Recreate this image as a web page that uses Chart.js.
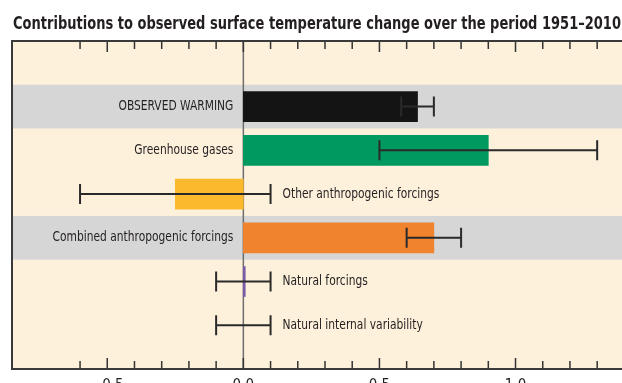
<!DOCTYPE html>
<html><head><meta charset="utf-8">
<script src="https://cdn.jsdelivr.net/npm/chart.js@4/dist/chart.umd.min.js"></script>
<style>
html,body{margin:0;padding:0;background:#fff;overflow:hidden;width:622px;height:383px}
#wrap{position:absolute;left:0;top:0;width:700px;height:383px}
</style>
</head><body><div id="wrap"><canvas id="c" width="700" height="383"></canvas></div>
<script>
const chartTitle = 'Contributions to observed surface temperature change over the period 1951–2010';
const categories = ['OBSERVED WARMING','Greenhouse gases','Other anthropogenic forcings','Combined anthropogenic forcings','Natural forcings','Natural internal variability'];
const bestEstimate = [0.64, 0.90, -0.25, 0.70, 0.007, null];
const lowerBound = [0.58, 0.50, -0.60, 0.60, -0.10, -0.10];
const upperBound = [0.70, 1.30, 0.10, 0.80, 0.10, 0.10];
const highlightedRows = [true, false, false, true, false, false];
const xTickValues = [-0.5, 0, 0.5, 1.0];
const xTickLabels = ['−0.5', '0.0', '0.5', '1.0'];
const barColors = ['#141414', '#00995f', '#fbb92e', '#f0832e', '#7a5aa8', '#000000'];

const FONT = '"Liberation Sans Narrow","DejaVu Sans Condensed","Arial Narrow",sans-serif';
const INK = '#231f20';

function squeezedText(ctx, text, x, y, sx) {
  ctx.save();
  ctx.translate(x, y);
  ctx.scale(sx, 1);
  ctx.fillText(text, 0, 0);
  ctx.restore();
}

const decor = {
  id: 'decor',
  beforeDatasetsDraw(chart) {
    const {ctx, chartArea: a, scales: {x, y}} = chart;
    ctx.save();
    ctx.fillStyle = '#fef1dc';
    ctx.fillRect(a.left, a.top, a.right - a.left, a.bottom - a.top);
    categories.forEach((c, i) => {
      if (!highlightedRows[i]) return;
      const t = y.getPixelForValue(i - 0.5), b = y.getPixelForValue(i + 0.5);
      ctx.fillStyle = '#d6d6d6';
      ctx.fillRect(a.left, Math.min(t, b), a.right - a.left, Math.abs(b - t));
    });
    const x0 = x.getPixelForValue(0);
    ctx.strokeStyle = '#6e6e6e'; ctx.lineWidth = 1.5;
    ctx.beginPath(); ctx.moveTo(x0, a.top); ctx.lineTo(x0, a.bottom); ctx.stroke();
    ctx.restore();
  },
  afterDatasetsDraw(chart) {
    const {ctx, chartArea: a, scales: {x, y}} = chart;
    ctx.save();
    // title
    ctx.font = 'bold 17px ' + FONT; ctx.fillStyle = INK; ctx.textBaseline = 'alphabetic'; ctx.textAlign = 'left';
    const tw = ctx.measureText(chartTitle).width;
    squeezedText(ctx, chartTitle, 13, 29, Math.min(1, 608 / tw));
    // error bars
    ctx.strokeStyle = '#2a2a2a'; ctx.lineWidth = 2;
    categories.forEach((c, i) => {
      const py = y.getPixelForValue(i);
      const l = x.getPixelForValue(lowerBound[i]), r = x.getPixelForValue(upperBound[i]);
      ctx.beginPath();
      ctx.moveTo(l, py); ctx.lineTo(r, py);
      ctx.moveTo(l, py - 10); ctx.lineTo(l, py + 10);
      ctx.moveTo(r, py - 10); ctx.lineTo(r, py + 10);
      ctx.stroke();
    });
    // category labels
    ctx.font = '13.5px ' + FONT; ctx.fillStyle = INK; ctx.textBaseline = 'middle';
    const sx = 0.88;
    const x0 = x.getPixelForValue(0);
    categories.forEach((c, i) => {
      const py = y.getPixelForValue(i);
      const v = bestEstimate[i];
      if (v !== null && v > 0.05) {
        ctx.textAlign = 'right'; squeezedText(ctx, c, x0 - 10, py, sx);
      } else {
        ctx.textAlign = 'left'; squeezedText(ctx, c, x.getPixelForValue(upperBound[i]) + 12, py, sx);
      }
    });
    // inner tick marks
    ctx.strokeStyle = '#333'; ctx.lineWidth = 1.5;
    for (let k = -6; k <= 14; k++) {
      const px = x.getPixelForValue(k / 10);
      const len = (k % 5 === 0) ? 11 : 8;
      ctx.beginPath();
      ctx.moveTo(px, a.top); ctx.lineTo(px, a.top + len);
      ctx.moveTo(px, a.bottom); ctx.lineTo(px, a.bottom - len);
      ctx.stroke();
    }
    // frame
    ctx.strokeStyle = '#3a3a3a'; ctx.lineWidth = 2;
    ctx.strokeRect(a.left, a.top, a.right - a.left, a.bottom - a.top);
    ctx.restore();
  }
};

const points = [];
const colors = [];
categories.forEach((c, i) => {
  if (bestEstimate[i] !== null) { points.push({y: i, x: bestEstimate[i]}); colors.push(barColors[i]); }
});

new Chart(document.getElementById('c'), {
  type: 'bar',
  data: { datasets: [{ data: points, backgroundColor: colors, borderWidth: 0, barThickness: 30 }] },
  options: {
    responsive: false, animation: false, indexAxis: 'y',
    layout: { padding: { left: 12, right: 62, top: 41, bottom: 0 } },
    plugins: { legend: { display: false }, tooltip: { enabled: false }, title: { display: false } },
    scales: {
      x: {
        type: 'linear', min: -0.85, max: 1.45,
        grid: { display: false, drawTicks: false }, border: { display: false },
        afterBuildTicks(s) { s.ticks = xTickValues.map(v => ({ value: v })); },
        afterFit(s) { s.height = 14; },
        ticks: {
          padding: 8, color: INK, autoSkip: false, maxRotation: 0,
          font: { family: FONT, size: 15 },
          callback: (v) => { const i = xTickValues.findIndex(t => Math.abs(t - v) < 1e-9); return i < 0 ? '' : xTickLabels[i]; }
        }
      },
      y: { type: 'linear', reverse: true, min: -1.5, max: 6, offset: false, display: false }
    }
  },
  plugins: [decor]
});
</script>
</body></html>
